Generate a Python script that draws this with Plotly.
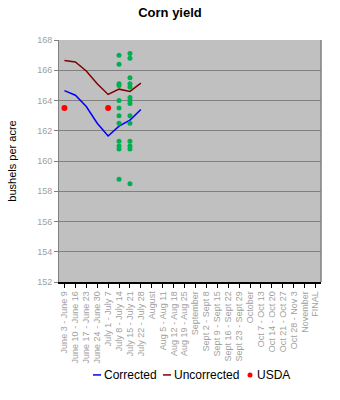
import plotly.graph_objects as go

weeks = ["June 3 - June 9", "June 10 - June 16", "June 17 - June 23", "June 24 - June 30",
         "July 1 - July 7", "July 8 - July 14", "July 15 - July 21", "July 22 - July 28",
         "August", "Aug 5 - Aug 11", "Aug 12 - Aug 18", "Aug 19 - Aug 25", "September",
         "Sept 2 - Sept 8", "Sept 9 - Sept 15", "Sept 16 - Sept 22", "Sept 23 - Sept 29",
         "October", "Oct 7 - Oct 13", "Oct 14 - Oct 20", "Oct 21 - Oct 27", "Oct 28 - Nov 3",
         "November", "FINAL"]

corrected = [164.65, 164.35, 163.6, 162.5, 161.65, 162.3, 162.7, 163.4]
uncorrected = [166.65, 166.55, 165.95, 165.1, 164.4, 164.75, 164.6, 165.15]
usda_weeks = ["June 3 - June 9", "July 1 - July 7"]
usda = [163.5, 163.5]

est_week1 = "July 8 - July 14"
est_vals1 = [167.0, 166.4, 165.1, 165.0, 164.0, 163.5, 163.0, 162.5, 161.3, 161.0, 160.8, 158.8]
est_week2 = "July 15 - July 21"
est_vals2 = [167.1, 166.8, 165.5, 165.1, 164.9, 164.2, 164.0, 163.8, 163.0, 162.5,
             161.3, 161.0, 160.8, 158.5]

legend_names = ["Corrected", "Uncorrected", "USDA"]
legend_colors = ["#0000ff", "#800000", "#ff0000"]

fig = go.Figure()
fig.add_trace(go.Scatter(x=weeks[:len(corrected)], y=corrected, mode="lines",
                         line=dict(color=legend_colors[0], width=1.5), name=legend_names[0]))
fig.add_trace(go.Scatter(x=weeks[:len(uncorrected)], y=uncorrected, mode="lines",
                         line=dict(color=legend_colors[1], width=1.5), name=legend_names[1]))
fig.add_trace(go.Scatter(x=[est_week1] * len(est_vals1) + [est_week2] * len(est_vals2),
                         y=est_vals1 + est_vals2, mode="markers",
                         marker=dict(color="#00b050", size=5), name="estimates"))
fig.add_trace(go.Scatter(x=usda_weeks, y=usda, mode="markers",
                         marker=dict(color=legend_colors[2], size=6), name=legend_names[2]))

# Manual legend (short line symbols like the original), in paper coordinates
ly = -0.384
leg_x = [(93 - 59) / 262, (163 - 59) / 262, (250 - 59) / 262]
for i, (nm, col) in enumerate(zip(legend_names, legend_colors)):
    x0 = leg_x[i]
    if i < 2:
        fig.add_shape(type="line", xref="paper", yref="paper", x0=x0, x1=x0 + 8 / 262,
                      y0=ly, y1=ly, line=dict(color=col, width=1.5))
        tx = x0 + 9 / 262
    else:
        fig.add_shape(type="circle", xref="paper", yref="paper", x0=x0 - 2.5 / 262,
                      x1=x0 + 2.5 / 262, y0=ly - 2.5 / 242, y1=ly + 2.5 / 242,
                      fillcolor=col, line=dict(width=0))
        tx = x0 + 5 / 262
    fig.add_annotation(text=nm, xref="paper", yref="paper", x=tx, y=ly, xanchor="left",
                       yanchor="middle", showarrow=False, font=dict(size=12, color="black"))

fig.update_layout(
    width=340, height=400,
    margin=dict(l=59, r=19, t=40, b=118),
    paper_bgcolor="white", plot_bgcolor="#c0c0c0",
    font=dict(family="Liberation Sans, Arial, sans-serif", size=11, color="black"),
    title=dict(text="<b>Corn yield</b>", x=0.5, xanchor="center", y=0.97, yanchor="middle",
               font=dict(size=13)),
    showlegend=False,
)
fig.update_xaxes(type="category", categoryorder="array", categoryarray=weeks,
                 tickmode="array", tickvals=weeks, ticktext=weeks,
                 range=[-0.5, len(weeks) - 0.5], tickangle=-90,
                 tickfont=dict(size=9, color="#a0a0a0"), showgrid=False,
                 showline=True, linecolor="black", linewidth=1.5, ticks="outside",
                 ticklen=4, tickcolor="black", mirror=False, zeroline=False)
fig.update_yaxes(range=[152, 168], dtick=2, tickfont=dict(size=9, color="#a0a0a0"),
                 showgrid=True, gridcolor="#808080", gridwidth=1,
                 showline=True, linecolor="#808080", linewidth=1, ticks="outside",
                 ticklen=4, tickcolor="#808080", zeroline=False,
                 title=dict(text="bushels per acre", font=dict(size=11), standoff=18))
fig.add_shape(type="line", xref="paper", yref="paper", x0=1, x1=1, y0=0, y1=1,
              line=dict(color="#808080", width=1.5))

fig.write_html("out.html")
